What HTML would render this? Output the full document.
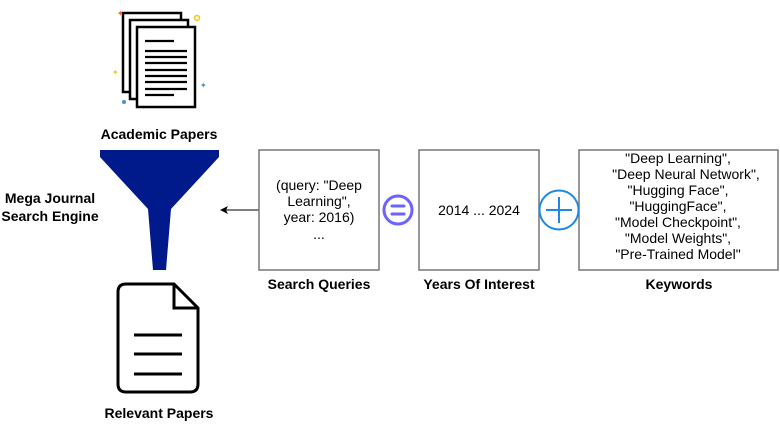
<!DOCTYPE html>
<html><head><style>
body{margin:0;width:780px;height:425px;background:#fff;overflow:hidden}
svg{font-family:"Liberation Sans",sans-serif}
</style></head><body>
<svg width="780" height="425" viewBox="0 0 780 425">
<!-- papers stack -->
<g stroke="#000" stroke-width="2.5" fill="#fff">
<rect x="123" y="13" width="58" height="79"/>
<rect x="130" y="20" width="58" height="79"/>
<rect x="137" y="27" width="58" height="80"/>
</g>
<g stroke="#000" stroke-width="2.2">
<line x1="145" y1="41" x2="174" y2="41"/>
<line x1="145" y1="51" x2="187" y2="51"/>
<line x1="145" y1="57" x2="187" y2="57"/>
<line x1="145" y1="63" x2="187" y2="63"/>
<line x1="145" y1="70" x2="187" y2="70"/>
<line x1="145" y1="76" x2="187" y2="76"/>
<line x1="145" y1="82" x2="187" y2="82"/>
<line x1="145" y1="89" x2="187" y2="89"/>
<line x1="145" y1="95" x2="174" y2="95"/>
</g>
<text x="117" y="16" fill="#f06030" font-size="8">✦</text>
<circle cx="197" cy="18" r="2.5" fill="none" stroke="#f5c518" stroke-width="1.5"/>
<text x="112" y="75" fill="#f5c518" font-size="8">✦</text>
<text x="200" y="88" fill="#4a90d9" font-size="8">✦</text>
<circle cx="124" cy="102" r="2" fill="#4a90d9"/>
<text x="159" y="139" font-size="14" font-weight="bold" text-anchor="middle">Academic Papers</text>
<!-- funnel -->
<polygon points="100,150 219,150 219,157 171,209 166,270 153,270 148,209 100,157" fill="#001a8c"/>
<text x="50" y="203" font-size="14" font-weight="bold" text-anchor="middle">Mega Journal</text>
<text x="50" y="221" font-size="14" font-weight="bold" text-anchor="middle">Search Engine</text>
<!-- arrow -->
<line x1="259" y1="210" x2="226" y2="210" stroke="#000" stroke-width="1"/>
<polygon points="220,210 228,206 226,210 228,214" fill="#000"/>
<!-- relevant doc -->
<path d="M128,284 H174 L198,308 V384 Q198,392 190,392 H126 Q118,392 118,384 V292 Q118,284 126,284 Z" fill="none" stroke="#000" stroke-width="3"/>
<path d="M174,284 V308 H198" fill="none" stroke="#000" stroke-width="3"/>
<g stroke="#000" stroke-width="3"><line x1="134" y1="335" x2="182" y2="335"/><line x1="134" y1="354" x2="182" y2="354"/><line x1="134" y1="374" x2="182" y2="374"/></g>
<text x="159" y="418" font-size="14" font-weight="bold" text-anchor="middle">Relevant Papers</text>
<!-- boxes -->
<g fill="#fff" stroke="#777" stroke-width="1.5">
<rect x="259" y="150" width="120" height="120"/>
<rect x="419" y="150" width="120" height="120"/>
<rect x="579" y="150" width="199" height="120"/>
</g>
<g font-size="14" text-anchor="middle">
<text x="319" y="190">(query: "Deep</text>
<text x="319" y="206">Learning",</text>
<text x="319" y="222">year: 2016)</text>
<text x="319" y="239">...</text>
<text x="479" y="215">2014 ... 2024</text>
<text x="678" y="163">"Deep Learning",</text>
<text x="686" y="179">"Deep Neural Network",</text>
<text x="678" y="195">"Hugging Face",</text>
<text x="678" y="211">"HuggingFace",</text>
<text x="678" y="227">"Model Checkpoint",</text>
<text x="678" y="243">"Model Weights",</text>
<text x="678" y="259">"Pre-Trained Model"</text>
</g>
<g font-size="14" font-weight="bold" text-anchor="middle">
<text x="319" y="289">Search Queries</text>
<text x="479" y="289">Years Of Interest</text>
<text x="679" y="289">Keywords</text>
</g>
<!-- equals -->
<circle cx="398" cy="210" r="14" fill="#fff" stroke="#6b63ff" stroke-width="3"/>
<g stroke="#6b63ff" stroke-width="3" stroke-linecap="round"><line x1="392" y1="206" x2="404" y2="206"/><line x1="392" y1="214" x2="404" y2="214"/></g>
<!-- plus -->
<circle cx="559" cy="210" r="19.5" fill="#fff" stroke="#1e88e5" stroke-width="2"/>
<g stroke="#1e88e5" stroke-width="2"><line x1="546" y1="210" x2="572" y2="210"/><line x1="559" y1="197" x2="559" y2="223"/></g>
</svg>
</body></html>
